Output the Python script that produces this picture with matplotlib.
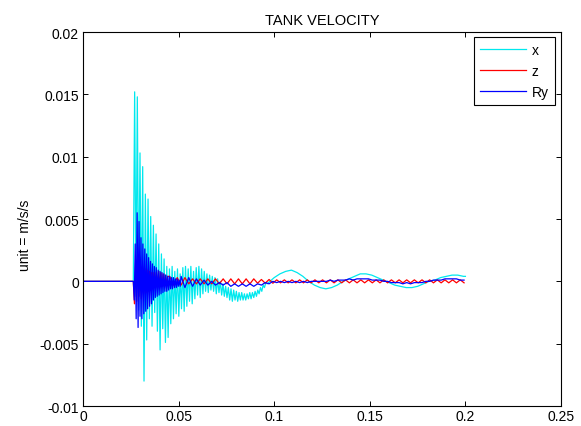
import matplotlib
matplotlib.use("Agg")
import matplotlib.pyplot as plt
import numpy as np

plt.rcParams['font.family'] = ['Liberation Sans', 'DejaVu Sans']

# x: flat lead-in, dense burst (one value per 0.0007 s), then slow wave
x_lead_t = [0.0, 0.0263]
x_lead = [0.0, 0.0]
x_burst_t0, x_burst_dt = 0.0263, 0.0007
x_burst = [0.0, 0.0152, -0.0012, 0.0148, -0.0023, 0.0103, -0.0036, 0.0092, -0.0080, 0.0070,
           -0.0047, 0.0066, -0.0030, 0.0052, -0.0036, 0.0045, -0.0025, 0.0038, -0.0040, 0.0030,
           -0.0055, 0.0022, -0.0038, 0.0018, -0.0049, 0.0012, -0.0045, 0.0010, -0.0034, 0.0012,
           -0.0030, 0.0008, -0.0026, 0.0010, -0.0028, 0.0006, -0.0022, 0.0011, -0.0024, 0.0012,
           -0.0020, 0.0010, -0.0016, 0.0012, -0.0018, 0.0008, -0.0014, 0.0011, -0.0011, 0.0012,
           -0.0013, 0.0010, -0.0010, 0.0008, -0.0008, 0.0006, -0.0009, 0.0005, -0.0007, 0.0004,
           -0.0008, 0.0003, -0.0010, 0.0002, -0.0009, 0.0000, -0.0011, -0.0002, -0.0012, -0.0004,
           -0.0013, -0.0005, -0.0015, -0.0006, -0.0016, -0.0007, -0.0015, -0.0008, -0.0016, -0.0009,
           -0.0015, -0.0009, -0.0015, -0.0010, -0.0015, -0.0010, -0.0014, -0.0009, -0.0014, -0.0009,
           -0.0013, -0.0008, -0.0012, -0.0007, -0.0010, -0.0005, -0.0008, -0.0003, -0.0005, -0.0001,
           -0.0002]
x_tail_t = [0.0970, 0.1000, 0.1030, 0.1060, 0.1090, 0.1120, 0.1150, 0.1180, 0.1210, 0.1240,
            0.1270, 0.1300, 0.1330, 0.1360, 0.1390, 0.1420, 0.1450, 0.1480, 0.1510, 0.1540,
            0.1570, 0.1600, 0.1630, 0.1660, 0.1690, 0.1720, 0.1750, 0.1780, 0.1810, 0.1840,
            0.1870, 0.1900, 0.1930, 0.1960, 0.1990, 0.2000]
x_tail = [-0.0001, 0.0003, 0.0006, 0.0008, 0.0009, 0.0007, 0.0004, 0.0000, -0.0003, -0.0005,
          -0.0006, -0.0005, -0.0003, 0.0000, 0.0002, 0.0004, 0.0006, 0.0006, 0.0005, 0.0003,
          0.0001, -0.0001, -0.0003, -0.0004, -0.0005, -0.0005, -0.0004, -0.0002, 0.0000, 0.0001,
          0.0003, 0.0004, 0.0005, 0.0005, 0.0004, 0.0004]

# z: burst every 0.0006 s, then ripple every 0.002 s
z_burst_t0, z_burst_dt = 0.0263, 0.0006
z_burst = [0.0, -0.0018, 0.0015, -0.0016, 0.0020, -0.0012, 0.0016, -0.0014, 0.0012, -0.0010,
           0.0010, -0.0009, 0.0009, -0.0008, 0.0008, -0.0007, 0.0007, -0.0006, 0.0007, -0.0005,
           0.0007, -0.0005, 0.0008, -0.0004, 0.0007, -0.0004, 0.0006, -0.0004, 0.0005, -0.0003,
           0.0004]
z_tail_t0, z_tail_dt = 0.0453, 0.002
z_tail = [0.0004, -0.0003, 0.0003, -0.0003, 0.0003, -0.0002, 0.0002, -0.0002, 0.0002, -0.0002,
          0.0002, -0.0002, 0.0002, -0.0002, 0.0002, -0.0002, 0.0002, -0.0002, 0.0002, -0.0002,
          0.0002, -0.0002, 0.0002, -0.00015, 0.00015, -0.00015, 0.00015, -0.00015, 0.00012, -0.00012,
          0.00012, -0.00012, 0.00012, -0.00012, 0.00012, -0.00012, 0.00012, -0.00012, 0.00012, -0.00012,
          0.00012, -0.00012, 0.00012, -0.00012, 0.00012, -0.00012, 0.00012, -0.00012, 0.00012, -0.00012,
          0.00012, -0.00012, 0.00012, -0.00012, 0.00012, -0.00012, 0.00012, -0.00012, 0.00012, -0.00012,
          0.00012, -0.00012, 0.00012, -0.00012, 0.00012, -0.00012, 0.00012, -0.00012, 0.00012, -0.00012,
          0.00012, -0.00012, 0.00012, -0.00012, 0.00012, -0.00012, 0.00012, -0.00012]

# Ry: burst every 0.0005 s, then ripple every 0.002 s
ry_lead_t = [0.0, 0.0263]
ry_lead = [0.0, 0.0]
ry_burst_t0, ry_burst_dt = 0.0263, 0.0005
ry_burst = [0.0, -0.0015, 0.0030, -0.0030, 0.0055, -0.0037, 0.0048, -0.0028, 0.0035, -0.0030,
            0.0030, -0.0026, 0.0026, -0.0024, 0.0022, -0.0022, 0.0019, -0.0020, 0.0016, -0.0018,
            0.0014, -0.0015, 0.0012, -0.0013, 0.0011, -0.0012, 0.0009, -0.0011, 0.0008, -0.0010,
            0.0007, -0.0009, 0.0006, -0.0008, 0.0005, -0.0008, 0.0004, -0.0007, 0.0004, -0.0006,
            0.0003, -0.0006, 0.0003, -0.0005, 0.0002, -0.0005, 0.0002, -0.0004, 0.0001, -0.0004]
ry_tail_t0, ry_tail_dt = 0.0513, 0.002
ry_tail = [0.0004, -0.0005, 0.0003, -0.0004, 0.0002, -0.0003, 0.0001, -0.0003, 0.0000, -0.0003,
           -0.0001, -0.0003, -0.0001, -0.0004, -0.0002, -0.0004, -0.0002, -0.0004, -0.0002, -0.0004,
           -0.0002, -0.0003, -0.0001, -0.0002, 0.0000, -0.0001, 0.0000, -0.0001, 0.0000,
           -0.0001, 0.0000, -0.0001, 0.0000, -0.0001, 0.0000, 0.0000, 0.0000, 0.0000, 0.0000,
           0.0001, 0.0000, 0.0001, 0.0001, 0.0001, 0.0002, 0.0001, 0.0002, 0.0002, 0.0002,
           0.0002, 0.0001, 0.0001, 0.0001, 0.0000, 0.0000, -0.0001, -0.0001, -0.0001, -0.0002,
           -0.0001, -0.0002, -0.0001, -0.0001, -0.0001, 0.0000, 0.0000, 0.0001, 0.0001, 0.0001,
           0.0002, 0.0002, 0.0002, 0.0002, 0.0001, 0.0001]

xticks = [0, 0.05, 0.1, 0.15, 0.2, 0.25]
xtick_labels = ['0', '0.05', '0.1', '0.15', '0.2', '0.25']
yticks = [-0.01, -0.005, 0, 0.005, 0.01, 0.015, 0.02]
ytick_labels = ['-0.01', '-0.005', '0', '0.005', '0.01', '0.015', '0.02']


def series(lead_t, lead, parts):
    t = list(lead_t)
    v = list(lead)
    for t0, dt, vals in parts:
        t += list(t0 + dt * np.arange(len(vals)))
        v += list(vals)
    return np.array(t), np.array(v)


tx, vx = series(x_lead_t, x_lead, [(x_burst_t0, x_burst_dt, x_burst)])
tx = np.concatenate([tx, x_tail_t])
vx = np.concatenate([vx, x_tail])
tz, vz = series(x_lead_t, x_lead, [(z_burst_t0, z_burst_dt, z_burst),
                                   (z_tail_t0, z_tail_dt, z_tail)])
tr, vr = series(ry_lead_t, ry_lead, [(ry_burst_t0, ry_burst_dt, ry_burst),
                                     (ry_tail_t0, ry_tail_dt, ry_tail)])

fig = plt.figure(figsize=(5.81, 4.27), dpi=100)
ax = fig.add_axes([0.1429, 0.0468, 0.8227, 0.8759])

ax.plot(tx, vx, color='#00e8ee', lw=0.9, label='x')
ax.plot(tz, vz, color='#ff0000', lw=0.9, label='z')
ax.plot(tr, vr, color='#0000ff', lw=0.9, label='Ry')

ax.set_xlim(0, 0.25)
ax.set_ylim(-0.01, 0.02)
ax.set_xticks(xticks)
ax.set_xticklabels(xtick_labels)
ax.set_yticks(yticks)
ax.set_yticklabels(ytick_labels)
ax.tick_params(direction='in', top=True, right=True, length=3.5, width=0.7,
               labelsize=10, colors='black')
ax.tick_params(axis='x', pad=2.5)
ax.tick_params(axis='y', pad=3)
for sp in ax.spines.values():
    sp.set_linewidth(0.8)

ax.set_title('TANK VELOCITY', fontsize=10.5, pad=6)
ax.set_ylabel('unit = m/s/s', fontsize=10)
ax.yaxis.set_label_coords(-0.107, 0.46)

leg = ax.legend(loc='upper right', bbox_to_anchor=(1 - 6 / 478, 1 - 5 / 374),
                borderaxespad=0, fontsize=10, handlelength=3.3, handletextpad=0.4,
                labelspacing=0.5, fancybox=False, framealpha=1, edgecolor='black',
                borderpad=0.45)
leg.get_frame().set_linewidth(0.8)

fig.savefig('out.png', dpi=100)
